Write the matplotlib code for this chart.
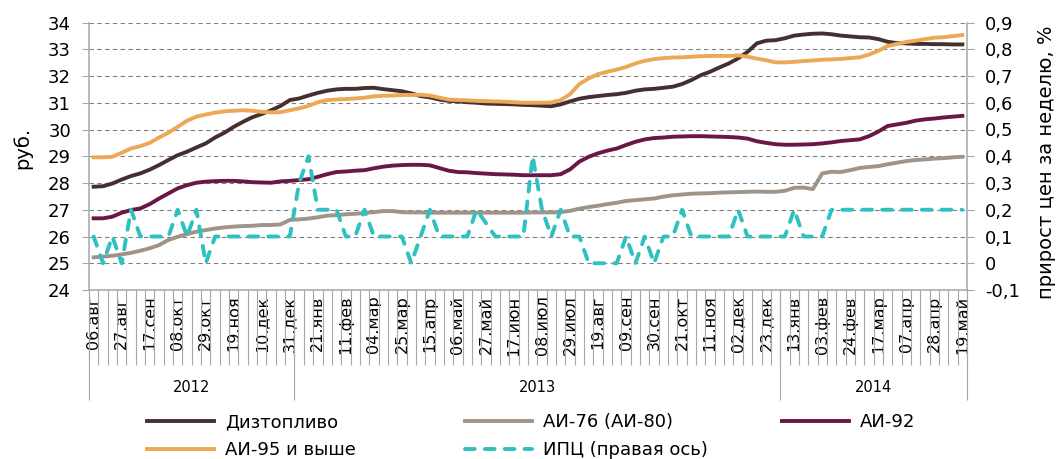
import matplotlib.pyplot as plt
import numpy as np
from matplotlib.ticker import FuncFormatter

# weekly fuel prices, rub per litre (06.08.2012 - 19.05.2014)
diesel = [27.86, 27.88, 27.98, 28.13, 28.26, 28.36, 28.50, 28.67, 28.86, 29.04,
          29.17, 29.33, 29.48, 29.70, 29.88, 30.10, 30.29, 30.46, 30.58, 30.72,
          30.88, 31.10, 31.16, 31.27, 31.37, 31.45, 31.50, 31.52, 31.52, 31.55,
          31.56, 31.51, 31.47, 31.43, 31.35, 31.25, 31.20, 31.12, 31.07, 31.05,
          31.02, 31.00, 30.97, 30.96, 30.95, 30.94, 30.92, 30.91, 30.89, 30.87,
          30.94, 31.05, 31.15, 31.21, 31.25, 31.29, 31.32, 31.37, 31.45, 31.50,
          31.52, 31.56, 31.60, 31.70, 31.85, 32.03, 32.16, 32.32, 32.47, 32.66,
          32.90, 33.22, 33.32, 33.34, 33.41, 33.51, 33.55, 33.58, 33.59, 33.56,
          33.51, 33.48, 33.45, 33.44, 33.38, 33.28, 33.23, 33.22, 33.20, 33.20,
          33.19, 33.19, 33.18, 33.18]
ai76 = [25.22, 25.25, 25.28, 25.33, 25.39, 25.47, 25.56, 25.68, 25.87, 25.99,
        26.09, 26.18, 26.24, 26.30, 26.34, 26.37, 26.39, 26.40, 26.43, 26.43,
        26.45, 26.62, 26.64, 26.67, 26.72, 26.78, 26.80, 26.83, 26.85, 26.88,
        26.91, 26.95, 26.95, 26.91, 26.90, 26.90, 26.89, 26.89, 26.89, 26.89,
        26.89, 26.89, 26.89, 26.89, 26.89, 26.89, 26.89, 26.90, 26.90, 26.90,
        26.91, 26.96, 27.04, 27.10, 27.15, 27.21, 27.26, 27.33, 27.36, 27.39,
        27.42, 27.49, 27.54, 27.57, 27.60, 27.61, 27.62, 27.64, 27.65, 27.66,
        27.67, 27.68, 27.67, 27.67, 27.71, 27.82, 27.83, 27.77, 28.36, 28.42,
        28.41, 28.48, 28.56, 28.60, 28.63, 28.70, 28.76, 28.82, 28.86, 28.88,
        28.91, 28.93, 28.96, 28.98]
ai92 = [26.68, 26.68, 26.74, 26.89, 26.99, 27.05, 27.21, 27.42, 27.61, 27.80,
        27.92, 28.01, 28.05, 28.07, 28.08, 28.08, 28.06, 28.03, 28.02, 28.01,
        28.06, 28.08, 28.11, 28.14, 28.23, 28.33, 28.41, 28.43, 28.46, 28.48,
        28.55, 28.61, 28.65, 28.67, 28.68, 28.68, 28.66, 28.56, 28.46, 28.41,
        28.40, 28.37, 28.35, 28.33, 28.32, 28.31, 28.29, 28.29, 28.29, 28.29,
        28.33, 28.51, 28.80, 28.98, 29.11, 29.21, 29.29, 29.42, 29.54, 29.63,
        29.68, 29.70, 29.73, 29.74, 29.75, 29.75, 29.74, 29.73, 29.72, 29.70,
        29.66, 29.56, 29.50, 29.45, 29.43, 29.43, 29.44, 29.45, 29.48, 29.52,
        29.57, 29.60, 29.63, 29.75, 29.92, 30.13, 30.19, 30.25, 30.33, 30.38,
        30.41, 30.45, 30.48, 30.51]
ai95 = [28.96, 28.96, 28.98, 29.13, 29.29, 29.38, 29.50, 29.70, 29.88, 30.10,
        30.33, 30.48, 30.56, 30.63, 30.68, 30.70, 30.72, 30.70, 30.66, 30.64,
        30.65, 30.72, 30.79, 30.88, 31.02, 31.10, 31.12, 31.14, 31.16, 31.19,
        31.24, 31.26, 31.27, 31.29, 31.29, 31.30, 31.27, 31.19, 31.12, 31.10,
        31.09, 31.07, 31.06, 31.05, 31.04, 31.02, 31.00, 31.00, 31.00, 31.01,
        31.10, 31.32, 31.70, 31.91, 32.07, 32.16, 32.24, 32.34, 32.47, 32.57,
        32.63, 32.67, 32.69, 32.70, 32.72, 32.74, 32.75, 32.75, 32.75, 32.77,
        32.72, 32.65, 32.59, 32.51, 32.51, 32.53, 32.56, 32.58, 32.61, 32.62,
        32.64, 32.67, 32.70, 32.80, 32.94, 33.12, 33.20, 33.27, 33.32, 33.38,
        33.43, 33.45, 33.49, 33.53]
# weekly CPI growth, % (right axis)
cpi = [0.1, 0.0, 0.1, 0.0, 0.2, 0.1, 0.1, 0.1, 0.1, 0.2,
       0.1, 0.2, 0.0, 0.1, 0.1, 0.1, 0.1, 0.1, 0.1, 0.1,
       0.1, 0.1, 0.3, 0.4, 0.2, 0.2, 0.2, 0.1, 0.1, 0.2,
       0.1, 0.1, 0.1, 0.1, 0.0, 0.1, 0.2, 0.1, 0.1, 0.1,
       0.1, 0.2, 0.15, 0.1, 0.1, 0.1, 0.1, 0.4, 0.2, 0.1,
       0.2, 0.1, 0.1, 0.0, 0.0, 0.0, 0.0, 0.1, 0.0, 0.1,
       0.0, 0.1, 0.1, 0.2, 0.1, 0.1, 0.1, 0.1, 0.1, 0.2,
       0.1, 0.1, 0.1, 0.1, 0.1, 0.2, 0.1, 0.1, 0.1, 0.2,
       0.2, 0.2, 0.2, 0.2, 0.2, 0.2, 0.2, 0.2, 0.2, 0.2,
       0.2, 0.2, 0.2, 0.2]

tick_labels = ["06.авг", "27.авг", "17.сен", "08.окт", "29.окт", "19.ноя", "10.дек", "31.дек",
               "21.янв", "11.фев", "04.мар", "25.мар", "15.апр", "06.май", "27.май", "17.июн",
               "08.июл", "29.июл", "19.авг", "09.сен", "30.сен", "21.окт", "11.ноя", "02.дек",
               "23.дек", "13.янв", "03.фев", "24.фев", "17.мар", "07.апр", "28.апр", "19.май"]
years = ["2012", "2013", "2014"]
weeks_in_year = [22, 52, 20]

n = len(diesel)
x = np.arange(n)
axis_grey = "#A6A6A6"

fig = plt.figure(figsize=(10.57, 4.59), dpi=100)
ax = fig.add_axes([89 / 1057, 1 - 290 / 459, 878 / 1057, 267.5 / 459])

l_diesel, = ax.plot(x, diesel, color="#45302F", lw=2.8, label="Дизтопливо")
l_76, = ax.plot(x, ai76, color="#A09388", lw=2.8, label="АИ-76 (АИ-80)")
l_92, = ax.plot(x, ai92, color="#6B1646", lw=2.8, label="АИ-92")
l_95, = ax.plot(x, ai95, color="#EDA857", lw=2.8, label="АИ-95 и выше")

ax.set_xlim(-0.5, n - 0.5)
ax.set_ylim(24, 34)
ax.set_yticks(range(24, 35))
ax.yaxis.grid(True, linestyle=(0, (4, 3)), color="#808080", lw=0.8)
ax.set_axisbelow(True)

ax.set_xticks(x[::3])
ax.set_xticklabels(tick_labels, rotation=90)
ax.set_xticks(np.arange(-0.5, n, 1), minor=True)
ax.tick_params(axis="x", which="major", length=0, pad=4, labelsize=11.5)
ax.tick_params(axis="x", which="minor", length=54, width=0.8, color=axis_grey)
ax.tick_params(axis="y", length=5, width=0.8, color=axis_grey, pad=8, labelsize=13)

for side in ["top", "right"]:
    ax.spines[side].set_visible(False)
for side in ["left", "bottom"]:
    ax.spines[side].set_color(axis_grey)
    ax.spines[side].set_linewidth(1.1)

# year level of the category axis
edges = np.concatenate([[0], np.cumsum(weeks_in_year)]) - 0.5
ax.vlines(edges, 0, -0.41, transform=ax.get_xaxis_transform(), color=axis_grey,
          lw=0.8, clip_on=False)
for yr, a, b in zip(years, edges[:-1], edges[1:]):
    ax.text((a + b) / 2, -0.365, yr, transform=ax.get_xaxis_transform(),
            ha="center", va="center", fontsize=10.5)

ax.set_ylabel("руб.", fontsize=14)
ax.yaxis.set_label_coords(-0.065, 0.53)

ax2 = ax.twinx()
l_cpi, = ax2.plot(x, cpi, color="#2FC0C0", lw=2.8, linestyle=(0, (2.5, 2.6)),
                  dash_capstyle="round", label="ИПЦ (правая ось)")
ax2.set_ylim(-0.1, 0.9)
ax2.set_yticks(np.round(np.arange(-0.1, 0.95, 0.1), 1))


def comma_fmt(v, pos):
    v = round(v, 1)
    if abs(v) < 1e-9:
        return "0"
    return ("%.1f" % v).replace(".", ",")


ax2.yaxis.set_major_formatter(FuncFormatter(comma_fmt))
ax2.tick_params(axis="y", length=5, width=0.8, color=axis_grey, pad=8, labelsize=13)
for side in ["top", "left", "bottom"]:
    ax2.spines[side].set_visible(False)
ax2.spines["right"].set_color(axis_grey)
ax2.spines["right"].set_linewidth(1.1)
ax2.set_ylabel("прирост цен за неделю, %", fontsize=14)
ax2.yaxis.set_label_coords(1.0797, 0.478)

# legend in three columns, Excel style
columns = [[l_diesel, l_95], [l_76, l_cpi], [l_92]]
col_x = [147, 465, 782]
for handles, cx in zip(columns, col_x):
    fig.legend(handles=handles, loc="upper left", bbox_to_anchor=(cx / 1057, 1 - 413 / 459),
               frameon=False, fontsize=13, handlelength=3.7, handletextpad=0.6,
               labelspacing=0.55, borderpad=0, borderaxespad=0)

fig.savefig("out.png", dpi=100)
